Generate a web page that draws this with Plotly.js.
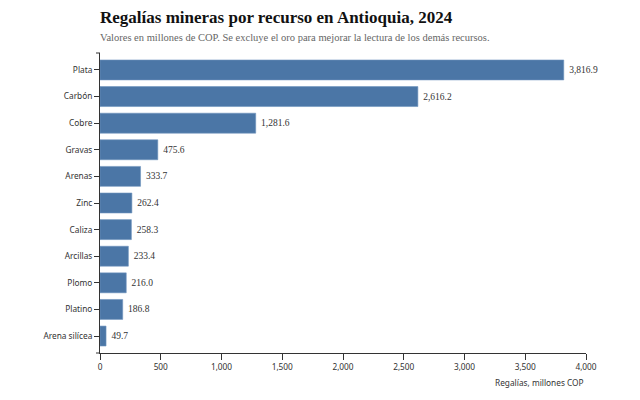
<!DOCTYPE html>
<html>
<head>
<meta charset="utf-8">
<script src="https://cdn.plot.ly/plotly-3.0.1.min.js"></script>
<style>html,body{margin:0;padding:0;background:#fff;}#chart{width:640px;height:400px;}</style>
</head>
<body>
<div id="chart"></div>
<script>
const recursos = ["Plata", "Carbón", "Cobre", "Gravas", "Arenas", "Zinc", "Caliza", "Arcillas", "Plomo", "Platino", "Arena silícea"];
const regalias = [3816.9, 2616.2, 1281.6, 475.6, 333.7, 262.4, 258.3, 233.4, 216.0, 186.8, 49.7];
const xTicks = [0, 500, 1000, 1500, 2000, 2500, 3000, 3500, 4000];

const sans = "Noto Sans, Open Sans, DejaVu Sans, sans-serif";
const serif = "Liberation Serif, DejaVu Serif, serif";

const trace = {
  type: "bar",
  orientation: "h",
  x: regalias,
  y: recursos,
  marker: {color: "#4b76a6", line: {color: "#6f93bd", width: 0.6}},
  texttemplate: "\u00a0%{x:,.1f}",
  textposition: "outside",
  cliponaxis: false,
  textfont: {family: serif, size: 9.5, color: "#333"},
  hoverinfo: "none"
};

const pad = 0.137;
const layout = {
  width: 640, height: 400,
  margin: {l: 100, r: 54, t: 53, b: 47},
  paper_bgcolor: "#fff", plot_bgcolor: "#fff",
  bargap: 0.25,
  showlegend: false,
  xaxis: {
    range: [0, 4000],
    tickvals: xTicks,
    tickformat: ",",
    showgrid: false, zeroline: false,
    showline: true, linecolor: "#333", linewidth: 1,
    ticks: "outside", ticklen: 6, tickcolor: "#333",
    tickfont: {family: sans, size: 8.3, color: "#333"}
  },
  yaxis: {
    type: "category",
    categoryorder: "array", categoryarray: recursos,
    range: [recursos.length - 1 + 0.5 + pad, -0.5 - pad],
    showgrid: false, zeroline: false,
    showline: true, linecolor: "#333", linewidth: 1,
    ticks: "outside", ticklen: 5, tickcolor: "#333",
    tickfont: {family: sans, size: 8.3, color: "#333"}
  },
  annotations: [
    {text: "<b>Regalías mineras por recurso en Antioquia, 2024</b>", xref: "paper", yref: "paper",
     x: 0, y: 1, xanchor: "left", yanchor: "bottom", yshift: 24, xshift: -2, showarrow: false,
     font: {family: serif, size: 17, color: "#111"}},
    {text: "Valores en millones de COP. Se excluye el oro para mejorar la lectura de los demás recursos.", xref: "paper", yref: "paper",
     x: 0, y: 1, xanchor: "left", yanchor: "bottom", yshift: 8, xshift: -2, showarrow: false,
     font: {family: serif, size: 10.5, color: "#666"}},
    {text: "Regalías, millones COP", xref: "paper", yref: "paper",
     x: 1, y: 0, xanchor: "right", yanchor: "top", yshift: -22, showarrow: false,
     font: {family: sans, size: 8.3, color: "#333"}}
  ],
  shapes: [
    {type: "line", xref: "paper", yref: "paper", xsizemode: "pixel", xanchor: 0, x0: -4, x1: 0, y0: 1, y1: 1, line: {color: "#333", width: 1}},
    {type: "line", xref: "paper", yref: "paper", xsizemode: "pixel", xanchor: 0, x0: -4, x1: 0, y0: 0, y1: 0, line: {color: "#333", width: 1}}
  ]
};

Plotly.newPlot("chart", [trace], layout, {displayModeBar: false, staticPlot: true});
</script>
</body>
</html>
